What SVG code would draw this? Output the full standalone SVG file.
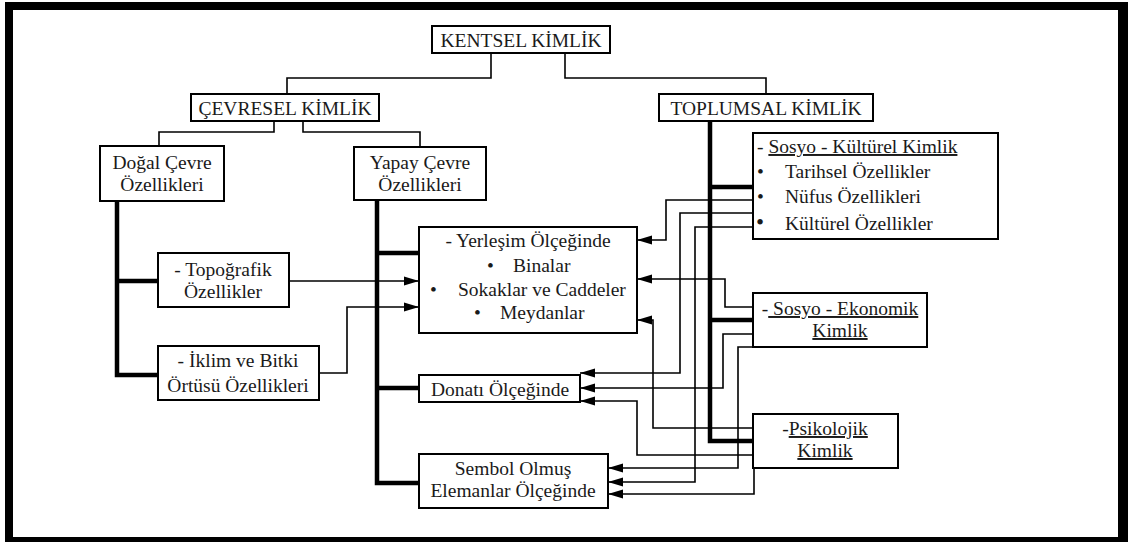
<svg xmlns="http://www.w3.org/2000/svg" width="1128" height="542" viewBox="0 0 1128 542">
<style>
text{font-family:"Liberation Serif","Times New Roman",serif;font-size:19.5px;fill:#1a1a1a}
.m{text-anchor:middle}
.box{fill:#fff;stroke:#000;stroke-width:2}
.thin{fill:none;stroke:#000;stroke-width:1.6}
.thick{fill:none;stroke:#000;stroke-width:4.5}
.arr{fill:none;stroke:#000;stroke-width:1.6;marker-end:url(#ah)}
.u{text-decoration:underline}
</style>
<defs>
<marker id="ah" markerUnits="userSpaceOnUse" markerWidth="16" markerHeight="10" refX="15" refY="5" orient="auto">
<path d="M0,0.5 L15,5 L0,9.5 Z" fill="#000"/>
</marker>
</defs>
<rect x="0" y="0" width="1128" height="542" fill="#fff"/>
<rect x="5" y="2" width="1123" height="540" fill="#000"/>
<rect x="13" y="10" width="1105" height="527" fill="#fff"/>

<g id="connectors">
<path class="thin" d="M491,53 V78 H287 V94"/>
<path class="thin" d="M565,53 V78 H766 V94"/>
<path class="thin" d="M274,121 V132 H159 V146"/>
<path class="thin" d="M303,121 V132 H420 V147"/>
<path class="thick" d="M117,201 V375 H158 M117,281 H158"/>
<path class="thick" d="M377,200 V483 H419 M377,253 H419 M377,388 H419"/>
<path class="thick" d="M710,121 V441 H753 M710,187 H753 M710,320 H753"/>
<path class="arr" d="M289,281 H419"/>
<path class="arr" d="M319,373 H347 V307 H419"/>
<path class="arr" d="M753,200 H666 V240 H637"/>
<path class="arr" d="M753,307 H725 V279 H637"/>
<path class="arr" d="M753,428 H653 V320 H637"/>
<path class="arr" d="M753,213 H680 V373 H580"/>
<path class="arr" d="M753,334 H723 V388 H580"/>
<path class="arr" d="M753,455 H637 V401 H580"/>
<path class="arr" d="M753,347 H738 V468 H608"/>
<path class="arr" d="M753,227 H695 V482 H608"/>
<path class="arr" d="M754,468 V494 H608"/>
</g>

<g id="kentsel">
<rect class="box" x="432" y="26" width="178" height="27"/>
<text class="m" x="521" y="47">KENTSEL KİMLİK</text>
</g>
<g id="cevresel">
<rect class="box" x="191" y="94" width="188" height="27"/>
<text class="m" x="285" y="115">ÇEVRESEL KİMLİK</text>
</g>
<g id="toplumsal">
<rect class="box" x="659" y="94" width="214" height="27"/>
<text class="m" x="766" y="115">TOPLUMSAL KİMLİK</text>
</g>
<g id="dogal">
<rect class="box" x="100" y="146" width="124" height="55"/>
<text class="m" x="162" y="169">Doğal Çevre</text>
<text class="m" x="162" y="191">Özellikleri</text>
</g>
<g id="yapay">
<rect class="box" x="354" y="147" width="132" height="53"/>
<text class="m" x="420" y="169">Yapay Çevre</text>
<text class="m" x="420" y="191">Özellikleri</text>
</g>
<g id="topografik">
<rect class="box" x="158" y="253" width="131" height="54"/>
<text class="m" x="223" y="276">- Topoğrafik</text>
<text class="m" x="223" y="298">Özellikler</text>
</g>
<g id="iklim">
<rect class="box" x="158" y="346" width="161" height="54"/>
<text class="m" x="238" y="367">- İklim ve Bitki</text>
<text class="m" x="238" y="392">Örtüsü Özellikleri</text>
</g>
<g id="yerlesim">
<rect class="box" x="419" y="227" width="218" height="106"/>
<text class="m" x="528" y="247">- Yerleşim Ölçeğinde</text>
<text x="487" y="272">•</text><text x="513" y="272">Binalar</text>
<text x="430" y="296">•</text><text x="458" y="296">Sokaklar ve Caddeler</text>
<text x="474" y="319">•</text><text x="500" y="319">Meydanlar</text>
</g>
<g id="donati">
<rect class="box" x="419" y="375" width="161" height="27"/>
<text class="m" x="500" y="396">Donatı Ölçeğinde</text>
</g>
<g id="sembol">
<rect class="box" x="419" y="454" width="189" height="54"/>
<text class="m" x="513" y="475">Sembol Olmuş</text>
<text class="m" x="513" y="497">Elemanlar Ölçeğinde</text>
</g>
<g id="sosyokulturel">
<rect class="box" x="753" y="133" width="245" height="106"/>
<text x="757" y="153">- <tspan class="u">Sosyo - Kültürel Kimlik</tspan></text>
<text x="757" y="178">•</text><text x="785" y="178">Tarihsel Özellikler</text>
<text x="757" y="203">•</text><text x="785" y="203">Nüfus Özellikleri</text>
<text x="756" y="230" style="font-size:23px">•</text><text x="785" y="230">Kültürel Özellikler</text>
</g>
<g id="sosyoekonomik">
<rect class="box" x="753" y="293" width="174" height="54"/>
<text class="m" x="840" y="315">-<tspan class="u"> Sosyo - Ekonomik</tspan></text>
<text class="m u" x="840" y="337">Kimlik</text>
</g>
<g id="psikolojik">
<rect class="box" x="753" y="414" width="145" height="54"/>
<text class="m" x="825" y="435">-<tspan class="u">Psikolojik</tspan></text>
<text class="m u" x="825" y="457">Kimlik</text>
</g>
</svg>
